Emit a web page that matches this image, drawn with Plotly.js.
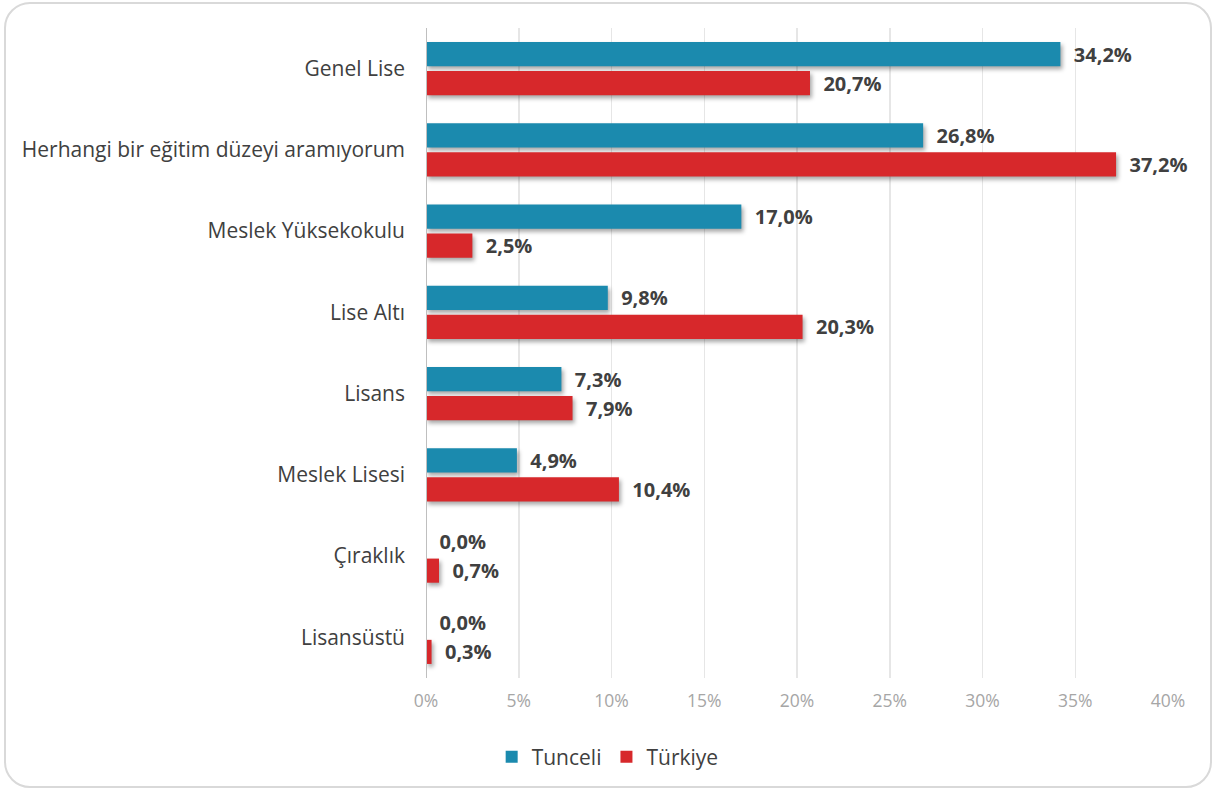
<!DOCTYPE html>
<html>
<head>
<meta charset="utf-8">
<script src="https://cdn.plot.ly/plotly-3.0.1.min.js"></script>
<style>
html,body{margin:0;padding:0;background:#fff;width:1219px;height:794px;overflow:hidden;}
#frame{position:absolute;left:4px;top:2px;width:1208px;height:786px;border:2px solid #d9d9d9;border-radius:26px;box-sizing:border-box;}
#chart{position:absolute;left:0;top:0;width:1219px;height:794px;}
</style>
</head>
<body>
<div id="frame"></div>
<div id="chart"></div>
<script>
const categories = ["Genel Lise","Herhangi bir eğitim düzeyi aramıyorum","Meslek Yüksekokulu","Lise Altı","Lisans","Meslek Lisesi","Çıraklık","Lisansüstü"];
const tunceli = [34.2, 26.8, 17.0, 9.8, 7.3, 4.9, 0.0, 0.0];
const turkiye = [20.7, 37.2, 2.5, 20.3, 7.9, 10.4, 0.7, 0.3];
const seriesNames = ["Tunceli","Türkiye"];
const tickVals = [0,5,10,15,20,25,30,35,40];
const tickText = ["0%","5%","10%","15%","20%","25%","30%","35%","40%"];

const fmt = v => "\u00a0\u00a0" + v.toFixed(1).replace(".", ",") + "%";
const labelFont = {family:"Open Sans, sans-serif", size:20, color:"#404040", weight:"bold"};

const traces = [
  {type:"bar", orientation:"h", name:seriesNames[0], y:categories, x:tunceli,
   marker:{color:"#1B8AAE"}, text:tunceli.map(fmt), textposition:"outside", constraintext:"none",
   textfont:labelFont, cliponaxis:false, hoverinfo:"none"},
  {type:"bar", orientation:"h", name:seriesNames[1], y:categories, x:turkiye,
   marker:{color:"#D7282B"}, text:turkiye.map(fmt), textposition:"outside", constraintext:"none",
   textfont:labelFont, cliponaxis:false, hoverinfo:"none"}
];

const layout = {
  width:1219, height:794,
  margin:{l:426, r:51, t:28, b:116},
  paper_bgcolor:"rgba(0,0,0,0)", plot_bgcolor:"rgba(0,0,0,0)",
  font:{family:"Open Sans, sans-serif", color:"#404040"},
  barmode:"group", bargap:0.285, bargroupgap:0.17,
  xaxis:{range:[0,40], tickvals:tickVals, ticktext:tickText, showgrid:true,
         gridcolor:"#e6e6e6", gridwidth:1.5, zeroline:false, showline:false,
         tickfont:{size:17.5, color:"#a6a6a6"}, ticks:"", ticklabelstandoff:10, fixedrange:true},
  yaxis:{autorange:"reversed", showgrid:false, zeroline:false, showline:false,
         ticks:"", tickfont:{size:21, color:"#404040"}, ticklabelstandoff:20},
  shapes:[{type:"line", xref:"x", yref:"paper", x0:0, x1:0, y0:0, y1:1,
           line:{color:"#bfbfbf", width:2}}],
  legend:{orientation:"h", x:0.4985, xref:"container", xanchor:"center", y:0.0466, yref:"container", yanchor:"middle",
          font:{size:21, color:"#404040"}, traceorder:"normal", itemwidth:20},
  showlegend:true
};

Plotly.newPlot("chart", traces, layout, {displayModeBar:false, staticPlot:true}).then(() => {
  document.querySelectorAll("#chart .bars .point path").forEach(p => {
    p.style.filter = "drop-shadow(2px 3px 2px rgba(0,0,0,0.35))";
  });
});
</script>
</body>
</html>
